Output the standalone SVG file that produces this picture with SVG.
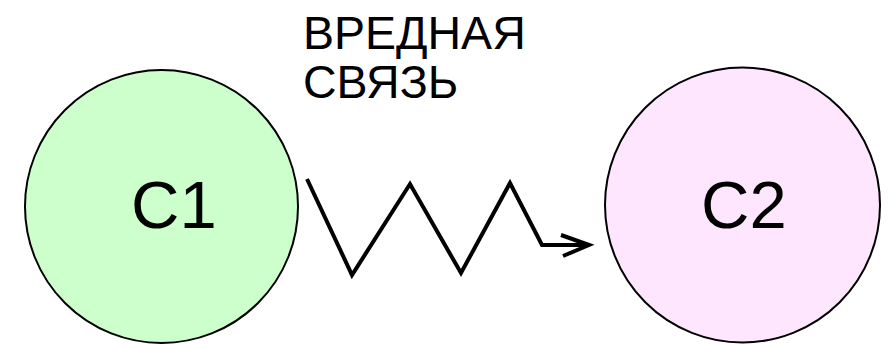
<svg xmlns="http://www.w3.org/2000/svg" width="895" height="344" viewBox="0 0 895 344">
<style>
.node{stroke:#000;stroke-width:2}
.lbl{font-family:"Liberation Sans",Arial,sans-serif;fill:#000}
.conn{fill:none;stroke:#000;stroke-width:4;stroke-linejoin:miter;stroke-linecap:butt}
</style>
<rect width="895" height="344" fill="#fff"/>
<g id="c1">
<circle class="node" cx="161.5" cy="206.5" r="136.5" fill="#ccffcc"/>
<text class="lbl" x="131" y="228" font-size="67">C1</text>
</g>
<g id="c2">
<circle class="node" cx="742.5" cy="205" r="137.5" fill="#ffe6ff"/>
<text class="lbl" x="701" y="228" font-size="67">C2</text>
</g>
<g id="label">
<text class="lbl" x="303" y="49" font-size="46.5">ВРЕДНАЯ</text>
<text class="lbl" x="303" y="98" font-size="46.5">СВЯЗЬ</text>
</g>
<g id="connectors">
<polyline class="conn" points="307,179 352,275 410,184 461,273 510,183 542,245 587,245"/>
<polyline class="conn" points="561,235 589,245 563,256"/>
</g>
</svg>
